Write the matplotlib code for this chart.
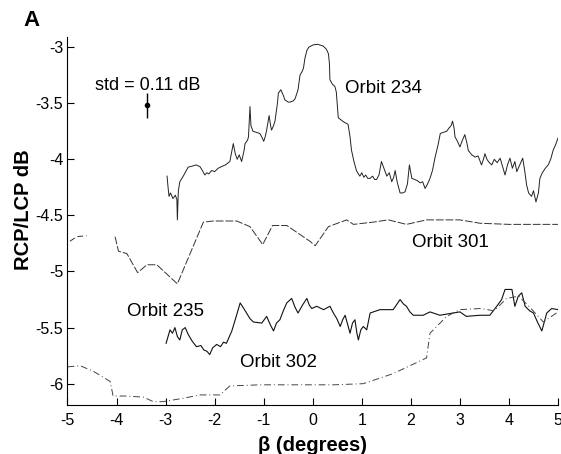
import numpy as np
import matplotlib
matplotlib.use('Agg')
import matplotlib.pyplot as plt

plt.rcParams['font.family'] = ['Liberation Sans', 'DejaVu Sans']

# Orbit 234 (solid, top)
x234 = [-2.97, -2.95, -2.93, -2.90, -2.85, -2.80, -2.77, -2.76, -2.75, -2.74, -2.71, -2.64,
        -2.54, -2.45, -2.38, -2.30, -2.25, -2.20, -2.16, -2.12, -2.06, -2.00, -1.93, -1.86,
        -1.78, -1.69, -1.66, -1.62, -1.58, -1.54, -1.50, -1.45, -1.40, -1.38, -1.33, -1.31,
        -1.28, -1.26, -1.22, -1.15, -1.08, -1.04, -1.00, -0.97, -0.94, -0.89, -0.86, -0.84,
        -0.80, -0.77, -0.72, -0.70, -0.65, -0.60, -0.57, -0.50, -0.46, -0.40, -0.36, -0.30,
        -0.26, -0.22, -0.19, -0.16, -0.12, -0.08, 0.01, 0.10, 0.21, 0.28, 0.32, 0.34,
        0.35, 0.40, 0.45, 0.48, 0.52, 0.58, 0.64, 0.69, 0.72, 0.76, 0.79, 0.84,
        0.89, 0.93, 0.96, 1.00, 1.04, 1.08, 1.12, 1.17, 1.22, 1.26, 1.30, 1.35,
        1.40, 1.45, 1.51, 1.56, 1.61, 1.65, 1.68, 1.72, 1.78, 1.83, 1.88, 1.93,
        1.97, 2.00, 2.02, 2.08, 2.13, 2.19, 2.24, 2.29, 2.34, 2.39, 2.44, 2.49,
        2.55, 2.60, 2.66, 2.73, 2.78, 2.82, 2.85, 2.88, 2.90, 2.95, 3.00, 3.05,
        3.10, 3.14, 3.17, 3.24, 3.31, 3.37, 3.44, 3.48, 3.51, 3.55, 3.60, 3.65,
        3.70, 3.76, 3.82, 3.86, 3.92, 3.97, 4.02, 4.07, 4.12, 4.16, 4.22, 4.28,
        4.32, 4.36, 4.40, 4.46, 4.50, 4.55, 4.60, 4.63, 4.68, 4.74, 4.80, 4.85,
        4.90, 4.95, 5.00]
y234 = [-4.15, -4.25, -4.33, -4.30, -4.35, -4.32, -4.36, -4.54, -4.40, -4.28, -4.20, -4.15,
        -4.07, -4.06, -4.05, -4.065, -4.10, -4.14, -4.12, -4.13, -4.10, -4.11, -4.08, -4.065,
        -4.05, -4.02, -3.95, -3.86, -3.95, -4.00, -3.96, -4.02, -3.92, -3.86, -3.83, -3.80,
        -3.53, -3.70, -3.75, -3.76, -3.77, -3.80, -3.84, -3.80, -3.74, -3.61, -3.70, -3.74,
        -3.70, -3.66, -3.50, -3.41, -3.38, -3.43, -3.47, -3.49, -3.49, -3.48, -3.46, -3.38,
        -3.25, -3.22, -3.19, -3.10, -3.03, -3.00, -2.98, -2.975, -2.99, -3.02, -3.06, -3.15,
        -3.29, -3.33, -3.35, -3.40, -3.63, -3.65, -3.67, -3.68, -3.69, -3.80, -3.92, -4.02,
        -4.10, -4.13, -4.15, -4.12, -4.16, -4.14, -4.17, -4.17, -4.15, -4.18, -4.18, -4.14,
        -4.02, -4.08, -4.15, -4.12, -4.20, -4.16, -4.10, -4.20, -4.30, -4.30, -4.29, -4.22,
        -4.05, -4.12, -4.17, -4.18, -4.19, -4.21, -4.20, -4.26, -4.22, -4.17, -4.10, -3.99,
        -3.88, -3.77, -3.76, -3.75, -3.72, -3.70, -3.66, -3.72, -3.80, -3.84, -3.89, -3.83,
        -3.78, -3.85, -3.92, -3.96, -3.98, -3.97, -4.05, -4.00, -3.95, -4.00, -4.03, -4.05,
        -4.00, -4.03, -3.99, -4.05, -4.14, -4.05, -3.99, -4.08, -4.02, -4.11, -4.05, -3.99,
        -4.10, -4.23, -4.30, -4.33, -4.28, -4.38, -4.30, -4.17, -4.12, -4.08, -4.05, -4.00,
        -3.92, -3.87, -3.81]

# Orbit 301 (dashed), two pieces
x301a = [-4.95, -4.81, -4.61]
y301a = [-4.73, -4.69, -4.68]
x301b = [-4.03, -3.96, -3.79, -3.57, -3.38, -3.18, -2.76, -2.23, -2.03, -1.55, -1.28, -1.02,
         -0.82, -0.53, -0.06, 0.05, 0.32, 0.69, 0.83, 1.23, 1.54, 1.91, 2.32, 3.00,
         3.41, 4.00, 4.50, 5.00]
y301b = [-4.69, -4.82, -4.84, -5.01, -4.94, -4.94, -5.11, -4.56, -4.55, -4.55, -4.60, -4.76,
         -4.59, -4.59, -4.73, -4.77, -4.60, -4.54, -4.58, -4.56, -4.54, -4.58, -4.54, -4.54,
         -4.57, -4.58, -4.58, -4.58]

# Orbit 235 (solid, lower)
x235 = [-2.99, -2.95, -2.91, -2.86, -2.81, -2.76, -2.71, -2.66, -2.60, -2.54, -2.46, -2.37,
        -2.28, -2.22, -2.16, -2.10, -2.04, -1.96, -1.88, -1.82, -1.76, -1.65, -1.56, -1.48,
        -1.42, -1.35, -1.28, -1.21, -1.04, -0.94, -0.87, -0.80, -0.74, -0.67, -0.60, -0.53,
        -0.43, -0.36, -0.30, -0.21, -0.12, -0.07, -0.02, 0.08, 0.22, 0.35, 0.42, 0.49,
        0.56, 0.61, 0.66, 0.71, 0.76, 0.81, 0.86, 0.90, 0.93, 0.98, 1.03, 1.10,
        1.17, 1.37, 1.64, 1.78, 1.85, 1.91, 1.98, 2.05, 2.25, 2.39, 2.59, 2.86,
        3.00, 3.13, 3.41, 3.61, 3.75, 3.85, 3.92, 4.06, 4.12, 4.19, 4.26, 4.33,
        4.42, 4.50, 4.58, 4.67, 4.77, 4.87, 5.00]
y235 = [-5.64, -5.58, -5.52, -5.55, -5.50, -5.58, -5.61, -5.52, -5.50, -5.56, -5.62, -5.67,
        -5.66, -5.70, -5.71, -5.74, -5.68, -5.65, -5.67, -5.63, -5.64, -5.53, -5.40, -5.28,
        -5.32, -5.37, -5.42, -5.45, -5.46, -5.40, -5.47, -5.53, -5.46, -5.43, -5.35, -5.28,
        -5.24, -5.32, -5.37, -5.30, -5.24, -5.30, -5.33, -5.31, -5.34, -5.31, -5.37, -5.42,
        -5.49, -5.43, -5.39, -5.47, -5.55, -5.46, -5.43, -5.55, -5.61, -5.52, -5.49, -5.52,
        -5.37, -5.34, -5.34, -5.25, -5.29, -5.31, -5.36, -5.39, -5.39, -5.36, -5.39, -5.37,
        -5.36, -5.40, -5.39, -5.39, -5.31, -5.25, -5.16, -5.16, -5.31, -5.22, -5.19, -5.31,
        -5.35, -5.37, -5.45, -5.53, -5.37, -5.33, -5.34]

# Orbit 302 (dash-dot)
x302 = [-5.00, -4.74, -4.47, -4.13, -4.07, -3.79, -3.45, -3.25, -3.05, -2.64, -2.30, -1.89,
        -1.69, -1.07, -0.40, 0.42, 1.03, 1.64, 2.32, 2.39, 2.73, 3.00, 3.41, 3.70,
        3.95, 4.20, 4.45, 4.70, 5.00]
y302 = [-5.85, -5.84, -5.89, -5.98, -6.11, -6.11, -6.12, -6.16, -6.16, -6.13, -6.10, -6.10,
        -6.02, -6.01, -6.01, -6.01, -6.00, -5.91, -5.77, -5.55, -5.40, -5.34, -5.33, -5.35,
        -5.24, -5.22, -5.33, -5.45, -5.36]

# std marker
std_x = -3.37
std_y = -3.52
std_err = 0.11

xticks = [-5, -4, -3, -2, -1, 0, 1, 2, 3, 4, 5]
yticks = [-3, -3.5, -4, -4.5, -5, -5.5, -6]
ytick_labels = ['-3', '-3.5', '-4', '-4.5', '-5', '-5.5', '-6']
xtick_labels = ['-5', '-4', '-3', '-2', '-1', '0', '1', '2', '3', '4', '5']

fig = plt.figure(figsize=(5.61, 4.54), dpi=100)
ax = fig.add_axes([0.1203, 0.1079, 0.8744, 0.8106])

ax.plot(x234, y234, color='#222222', lw=0.7)
ax.plot(x235, y235, color='#111111', lw=0.8)
ax.plot(x301a, y301a, color='#333333', lw=0.7, ls=(0, (6, 3)))
ax.plot(x301b, y301b, color='#333333', lw=0.7, ls=(0, (8, 2)))
ax.plot(x302, y302, color='#444444', lw=0.7, ls=(0, (7, 3, 1, 3)))

ax.errorbar([std_x], [std_y], yerr=[std_err], fmt='o', color='black', ms=3, elinewidth=1, capsize=0)

ax.text(-4.44, -3.34, 'std = 0.11 dB', fontsize=13, va='center', ha='left')
ax.text(0.66, -3.37, 'Orbit 234', fontsize=13.5, va='center', ha='left')
ax.text(2.02, -4.74, 'Orbit 301', fontsize=13.5, va='center', ha='left')
ax.text(-3.79, -5.36, 'Orbit 235', fontsize=13.5, va='center', ha='left')
ax.text(-1.48, -5.81, 'Orbit 302', fontsize=13.5, va='center', ha='left')

ax.set_xlim(-5, 5)
ax.set_ylim(-6.19, -2.91)
ax.set_xticks(xticks)
ax.set_xticklabels(xtick_labels)
ax.set_yticks(yticks)
ax.set_yticklabels(ytick_labels)
ax.tick_params(direction='in', length=5, labelsize=11.5, width=0.8)
ax.tick_params(axis='x', pad=6)
ax.tick_params(axis='y', pad=3)
ax.spines['top'].set_visible(False)
ax.spines['right'].set_visible(False)

ax.set_xlabel('β (degrees)', fontsize=14.5, fontweight='bold')
ax.set_ylabel('RCP/LCP dB', fontsize=14.5, fontweight='bold')
ax.xaxis.set_label_coords(0.5, -0.085)
# y label sits a little above the axes centre in the original
ax.yaxis.set_label_coords(-0.07, 0.53)

fig.text(23 / 561, 1 - 20 / 454, 'A', fontsize=16, fontweight='bold', va='center', ha='left')

fig.savefig('out.png', dpi=100)
